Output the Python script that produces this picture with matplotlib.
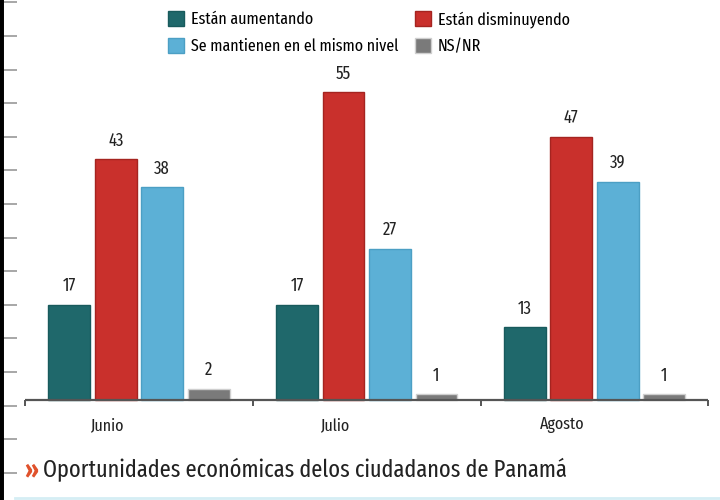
import matplotlib
matplotlib.use('Agg')
import matplotlib.pyplot as plt
from matplotlib.lines import Line2D
import numpy as np

months = ['Junio', 'Julio', 'Agosto']
series = ['Están aumentando', 'Están disminuyendo',
          'Se mantienen en el mismo nivel', 'NS/NR']
aumentando = [17, 17, 13]
disminuyendo = [43, 55, 47]
mantienen = [38, 27, 39]
ns_nr = [2, 1, 1]
title = 'Oportunidades económicas delos ciudadanos de Panamá'

colors = ['#1f686b', '#c9302c', '#5cb0d6', '#7a7a7a']
edges = ['#185a5c', '#a52420', '#4c9fc4', '#cfcfcf']

plt.rcParams['font.family'] = ['Fira Sans Condensed', 'DejaVu Sans']
narrow = ['Fira Sans Extra Condensed', 'DejaVu Sans']

fig = plt.figure(figsize=(7.2, 5), dpi=100)
ax = fig.add_axes([0, 0, 1, 1])

step = 4.9
width = 0.9
x = np.arange(len(months)) * step
values = [aumentando, disminuyendo, mantienen, ns_nr]

for j, vals in enumerate(values):
    bars = ax.bar(x + j, vals, width, color=colors[j], edgecolor=edges[j],
                  linewidth=1, label=series[j], zorder=2)
    ax.bar_label(bars, padding=7, fontsize=13, color='#222222', family=narrow)

# baseline with small separators between months
bounds = np.append(x - 0.95, x[-1] + step - 0.95)
ax.hlines(0, bounds[0], bounds[-1], color='#555555', lw=1.6, zorder=3)
ax.vlines(bounds, -1.0, 0, color='#555555', lw=1.4, zorder=3)

for xc, m in zip(x + 1.5, months):
    ax.text(xc - 0.7, -4.5, m, ha='center', va='center',
            fontsize=12.5, color='#222222', family=narrow)

ax.set_xlim(-1.49, 14.0)
ax.set_ylim(-17.86, 71.43)
ax.set_xticks([])
ax.set_yticks(np.arange(-13, 72, 6))
ax.tick_params(axis='y', direction='in', length=12, width=1.3,
               color='#a0a0a0', labelleft=False)
for s in ['top', 'right', 'bottom']:
    ax.spines[s].set_visible(False)
ax.spines['left'].set_color('black')
ax.spines['left'].set_linewidth(5)

h, l = ax.get_legend_handles_labels()
order = [0, 2, 1, 3]
fig.legend([h[i] for i in order], [l[i] for i in order], ncol=2,
           loc='upper left', bbox_to_anchor=(162 / 720, 1 - 5 / 500),
           frameon=False, prop={'family': narrow, 'size': 12.5},
           handlelength=0.9, handleheight=0.9, handletextpad=0.4,
           columnspacing=1.0, labelspacing=0.6, borderaxespad=0,
           borderpad=0.35)

fig.text(24 / 720, 1 - 470 / 500, '»', color='#e0522c', fontsize=18,
         fontweight='bold', va='center', family=narrow)
fig.text(43 / 720, 1 - 470 / 500, title, color='#222222', fontsize=17.5,
         va='center', family=narrow)
fig.add_artist(Line2D([15 / 720, 1], [0.004, 0.004], color='#d5eef4', lw=2))

fig.savefig('out.png', dpi=100)
